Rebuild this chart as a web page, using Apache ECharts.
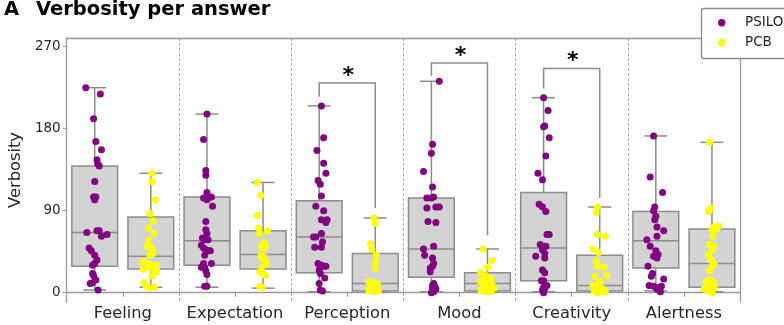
<!DOCTYPE html>
<html>
<head>
<meta charset="utf-8">
<script src="https://cdn.jsdelivr.net/npm/echarts@6/dist/echarts.min.js"></script>
<style>html,body{margin:0;padding:0;background:#fff;}#c{width:784px;height:325px;}</style>
</head>
<body>
<div id="c"></div>
<script>
const categories = ['Feeling', 'Expectation', 'Perception', 'Mood', 'Creativity', 'Alertness'];
const yTicks = [0, 90, 180, 270];
const groups = ['PSILO', 'PCB'];

// box stats per category: [min, Q1, median, Q3, max]
const psiloBox = [[3,29,66,139,225],[6,30,57,105,196],[1,22,61,101,205],[1,17,48,104,232],[1,13,49,110,214],[2,27,57,89,172]];
const pcbBox = [[6,26,40,83,131],[5,26,42,68,121],[1,2,10,43,82],[1,2,10,22,48],[1,2,8,41,94],[1,6,32,70,165]];

// points: [value, jitter (fraction of category width)]
const psiloFeeling = [[225,-0.08],[218,0.05],[191,-0.01],[166,0.01],[157,0.06],[146,0.02],[141,0.03],[139,0.04],[122,0],[105,-0.01],[105,0.01],[102,0],[66,-0.07],[68,0.02],[68,0.04],[62,0.06],[64,0.11],[49,-0.05],[46,-0.03],[41,0],[36,0.02],[32,0],[30,-0.02],[21,-0.02],[19,-0.01],[14,0.01],[10,-0.04],[11,-0.02],[3,0.03]];
const pcbFeeling = [[131,0.01],[122,0.01],[102,0.04],[87,-0.01],[79,0.02],[71,-0.02],[65,0.03],[58,-0.02],[51,-0.03],[49,0.01],[43,0.02],[41,-0.01],[34,-0.07],[32,-0.04],[31,-0.01],[30,0.03],[30,0.05],[28,-0.04],[27,0],[25,0.05],[26,-0.07],[22,0.03],[23,0.05],[18,0.01],[11,-0.06],[7,-0.04],[6,0.03],[6,-0.02]];
const psiloExpectation = [[196,0],[168,-0.03],[134,-0.01],[129,-0.01],[110,0],[105,0.02],[104,-0.03],[102,0],[105,0.04],[95,0.05],[78,-0.01],[69,-0.01],[65,0],[60,-0.04],[58,-0.02],[58,0.01],[52,-0.05],[49,-0.03],[47,-0.01],[46,0.01],[46,0.03],[41,-0.02],[32,-0.03],[32,0.04],[28,-0.05],[27,-0.02],[24,-0.01],[20,0],[7,0],[7,-0.02]];
const pcbExpectation = [[121,-0.05],[107,-0.02],[85,-0.05],[71,-0.04],[68,0.04],[65,-0.03],[55,0.01],[52,-0.01],[51,0.02],[49,-0.01],[50,0.02],[41,-0.02],[39,0.01],[38,-0.01],[34,0.02],[32,0.03],[28,-0.01],[23,-0.03],[21,0],[19,0.02],[7,-0.03],[6,-0.01]];
const psiloPerception = [[205,0.02],[170,0.04],[156,-0.02],[142,0.04],[131,0.06],[123,-0.01],[119,0.01],[106,0.02],[95,-0.03],[90,0.04],[80,0.07],[80,0.02],[77,0.06],[65,0.02],[61,-0.05],[61,-0.03],[56,0.03],[50,0.02],[50,-0.04],[32,-0.01],[30,0.02],[29,0.06],[29,0.04],[25,0],[21,0.01],[16,0.05],[10,0],[3,0.01],[2,0.03]];
const pcbPerception = [[82,-0.01],[76,0],[54,-0.04],[47,-0.03],[41,0.01],[34,0],[27,0],[12,-0.06],[11,-0.02],[10,0.02],[7,-0.04],[6,0],[3,-0.06],[2,-0.03],[2,0.01],[3,0.03],[1,-0.01]];
const psiloMood = [[232,0.07],[163,0.01],[153,0],[133,-0.07],[116,0.01],[104,-0.04],[104,0],[105,0.02],[94,0.04],[94,0.07],[93,-0.04],[78,-0.03],[77,0.04],[48,-0.07],[51,0.02],[41,-0.06],[38,0.01],[32,0.02],[27,-0.01],[23,-0.01],[29,0.01],[10,0.02],[8,0.01],[7,0.03],[5,0.01],[4,0.04],[1,0.02],[0,0]];
const pcbMood = [[48,-0.04],[35,0.04],[28,0],[22,-0.06],[19,-0.02],[17,-0.03],[16,0.03],[12,-0.06],[10,-0.01],[10,0.04],[7,-0.03],[6,0.02],[5,0.06],[3,-0.06],[2,0],[1,0.03],[1,-0.02]];
const psiloCreativity = [[214,0],[200,0.04],[183,0.01],[182,0],[170,0.05],[150,0.02],[131,-0.05],[124,-0.01],[97,-0.04],[94,-0.01],[89,0.02],[64,0.03],[64,0.05],[53,-0.03],[51,0.02],[47,-0.01],[43,0.01],[40,-0.07],[38,0.01],[25,-0.01],[22,0.01],[13,-0.02],[13,0],[8,0.03],[6,0],[5,0.01],[3,-0.01],[0,0]];
const pcbCreativity = [[94,-0.02],[88,-0.03],[64,-0.02],[62,0.05],[48,-0.06],[44,-0.01],[35,-0.03],[29,-0.02],[28,0.04],[18,-0.04],[19,0.06],[12,0],[8,-0.06],[7,-0.02],[5,0.02],[2,-0.05],[1,0],[1,0.05],[0,-0.02]];
const psiloAlertness = [[172,-0.02],[127,-0.05],[110,0.06],[94,-0.01],[90,-0.02],[84,0],[80,-0.01],[72,0.01],[68,0.07],[58,-0.08],[62,0.01],[51,-0.05],[46,0],[42,0.02],[40,-0.02],[38,0.01],[29,-0.07],[21,-0.03],[18,-0.04],[15,0.07],[8,-0.06],[7,-0.02],[6,0.03],[7,0.05],[4,0.01],[1,0.04]];
const pcbAlertness = [[165,-0.02],[93,-0.01],[89,-0.03],[69,0],[70,0.04],[73,0.06],[72,0.02],[62,0.01],[53,-0.02],[51,0.02],[46,0],[41,-0.03],[36,-0.01],[32,0.02],[29,0],[24,-0.02],[14,-0.01],[12,-0.05],[11,0.02],[7,-0.03],[6,0],[4,-0.07],[3,-0.04],[1,-0.01],[0,0],[6,0.02]];

const psiloPoints = [psiloFeeling, psiloExpectation, psiloPerception, psiloMood, psiloCreativity, psiloAlertness];
const pcbPoints = [pcbFeeling, pcbExpectation, pcbPerception, pcbMood, pcbCreativity, pcbAlertness];

// significance brackets: category index, bracket top, left end, right end
const sigCategories = [2, 3, 4];
const sigTop = [230, 252, 246];
const sigLeftEnd = [215, 238, 224];
const sigRightEnd = [93, 63, 104];
const sigLabel = '*';

const FONT = 'DejaVu Sans';
const GROUP_OFFSET = [-0.25, 0.25];
const BOX_FRAC = 0.408;
const EDGE = '#8c8c8c';
const FRAME = '#9a9a9a';
const TEXT = '#262626';
const COLORS = ['#800080', '#ffff00'];

function pointData(pts, g) {
  const out = [];
  pts.forEach((arr, i) => arr.forEach(p => out.push([i + GROUP_OFFSET[g] + p[1], p[0]])));
  return out;
}

function boxSeries(stats, g) {
  return {
    type: 'custom', name: groups[g] + ' box', xAxisIndex: 0, yAxisIndex: 0, z: 2, silent: true,
    data: stats.map((s, i) => [i].concat(s)),
    encode: { x: 0, y: [1, 2, 3, 4, 5] },
    renderItem: function (params, api) {
      const i = api.value(0);
      const bw = api.size([1, 0])[0];
      const cx = api.coord([i, 0])[0] + GROUP_OFFSET[g] * bw;
      const hw = BOX_FRAC * bw / 2;
      const cw = hw / 2;
      const y = [1, 2, 3, 4, 5].map(k => api.coord([i, api.value(k)])[1]);
      const ls = { stroke: EDGE, lineWidth: 1.5, fill: null };
      return {
        type: 'group', children: [
          { type: 'line', shape: { x1: cx, y1: y[0], x2: cx, y2: y[1] }, style: ls },
          { type: 'line', shape: { x1: cx, y1: y[3], x2: cx, y2: y[4] }, style: ls },
          { type: 'line', shape: { x1: cx - cw, y1: y[0], x2: cx + cw, y2: y[0] }, style: ls },
          { type: 'line', shape: { x1: cx - cw, y1: y[4], x2: cx + cw, y2: y[4] }, style: ls },
          { type: 'rect', shape: { x: cx - hw, y: y[3], width: 2 * hw, height: y[1] - y[3] }, style: { fill: '#d3d3d3', stroke: EDGE, lineWidth: 1.5 } },
          { type: 'line', shape: { x1: cx - hw, y1: y[2], x2: cx + hw, y2: y[2] }, style: ls }
        ]
      };
    }
  };
}

// legend drawn as a boxed key in the top-right corner (box runs past the page edge, as in the original)
const legendGraphic = [
  { type: 'rect', z: 50, shape: { x: 701.5, y: 8.5, width: 120, height: 50, r: 2 }, style: { fill: '#fff', stroke: '#8a8a8a', lineWidth: 1.3 } }
];
groups.forEach((name, g) => {
  const cy = 22.7 + g * 20;
  legendGraphic.push({ type: 'circle', z: 51, shape: { cx: 721.7, cy: cy, r: 3.7 }, style: { fill: COLORS[g] } });
  legendGraphic.push({ type: 'text', z: 51, x: 745, y: cy, style: { text: name, fontFamily: FONT, fontSize: 13.5, fill: TEXT, align: 'left', verticalAlign: 'middle' } });
});

const chart = echarts.init(document.getElementById('c'), null, { renderer: 'canvas' });
chart.setOption({
  animation: false,
  backgroundColor: '#fff',
  textStyle: { fontFamily: FONT },
  title: [
    { text: 'A', left: 4, top: 0, padding: 0, textStyle: { fontFamily: FONT, fontSize: 19.5, fontWeight: 'bold', color: '#000' } },
    { text: 'Verbosity per answer', left: 36, top: 0, padding: 0, textStyle: { fontFamily: FONT, fontSize: 19.5, fontWeight: 'bold', color: '#000' } }
  ],
  graphic: legendGraphic,
  legend: { show: false, data: groups },
  grid: { left: 63, right: 44, top: 38, bottom: 23 },
  xAxis: [
    {
      type: 'category', data: categories, position: 'bottom',
      axisLine: { show: true, lineStyle: { color: FRAME, width: 1.3 } },
      axisTick: { show: true, alignWithLabel: true, interval: 0, length: 4, lineStyle: { color: FRAME } },
      axisLabel: { fontFamily: FONT, fontSize: 16.3, color: TEXT, margin: 4, interval: 0 },
      splitLine: { show: true, interval: 0, lineStyle: { color: '#aaa', type: [3, 2], width: 1 } }
    },
    {
      type: 'value', min: -0.5, max: 5.5, position: 'top',
      axisLine: { show: true, onZero: false, lineStyle: { color: FRAME, width: 1.3 } },
      axisTick: { show: false }, axisLabel: { show: false }, splitLine: { show: false }
    }
  ],
  yAxis: [
    {
      type: 'value', min: -10.2, max: 279.5,
      name: 'Verbosity', nameLocation: 'middle', nameGap: 32,
      nameTextStyle: { fontFamily: FONT, fontSize: 16.3, color: TEXT },
      axisLine: { show: true, onZero: false, lineStyle: { color: FRAME, width: 1.3 } },
      axisTick: { show: true, length: 4, customValues: yTicks, lineStyle: { color: FRAME } },
      axisLabel: { fontFamily: FONT, fontSize: 13.5, color: TEXT, margin: 6, customValues: yTicks },
      splitLine: { show: false }
    },
    {
      type: 'value', min: -10.2, max: 279.5, position: 'right',
      axisLine: { show: true, onZero: false, lineStyle: { color: FRAME, width: 1.3 } },
      axisTick: { show: false }, axisLabel: { show: false }, splitLine: { show: false }
    }
  ],
  series: [
    boxSeries(psiloBox, 0),
    boxSeries(pcbBox, 1),
    {
      type: 'scatter', name: 'PSILO', xAxisIndex: 1, yAxisIndex: 0, z: 3, symbolSize: 7,
      itemStyle: { color: COLORS[0], opacity: 1 }, data: pointData(psiloPoints, 0)
    },
    {
      type: 'scatter', name: 'PCB', xAxisIndex: 1, yAxisIndex: 0, z: 3, symbolSize: 7,
      itemStyle: { color: COLORS[1], opacity: 1 }, data: pointData(pcbPoints, 1)
    },
    {
      type: 'custom', name: 'sig', xAxisIndex: 0, yAxisIndex: 0, z: 4, silent: true,
      data: sigCategories.map((c, k) => [c, sigTop[k], sigLeftEnd[k], sigRightEnd[k]]),
      encode: { x: 0, y: [1, 2, 3] },
      renderItem: function (params, api) {
        const i = api.value(0);
        const bw = api.size([1, 0])[0];
        const c = api.coord([i, api.value(1)]);
        const xl = c[0] + GROUP_OFFSET[0] * bw;
        const xr = c[0] + GROUP_OFFSET[1] * bw;
        const yt = c[1];
        const yl = api.coord([i, api.value(2)])[1];
        const yr = api.coord([i, api.value(3)])[1];
        return {
          type: 'group', children: [
            { type: 'polyline', shape: { points: [[xl, yl], [xl, yt], [xr, yt], [xr, yr]] }, style: { stroke: EDGE, lineWidth: 1.5, fill: null } },
            { type: 'text', x: (xl + xr) / 2 + 1, y: yt - 7, style: { text: sigLabel, fontFamily: FONT, fontSize: 22, fontWeight: 'bold', fill: '#000', align: 'center', verticalAlign: 'middle' } }
          ]
        };
      }
    }
  ]
});
</script>
</body>
</html>
